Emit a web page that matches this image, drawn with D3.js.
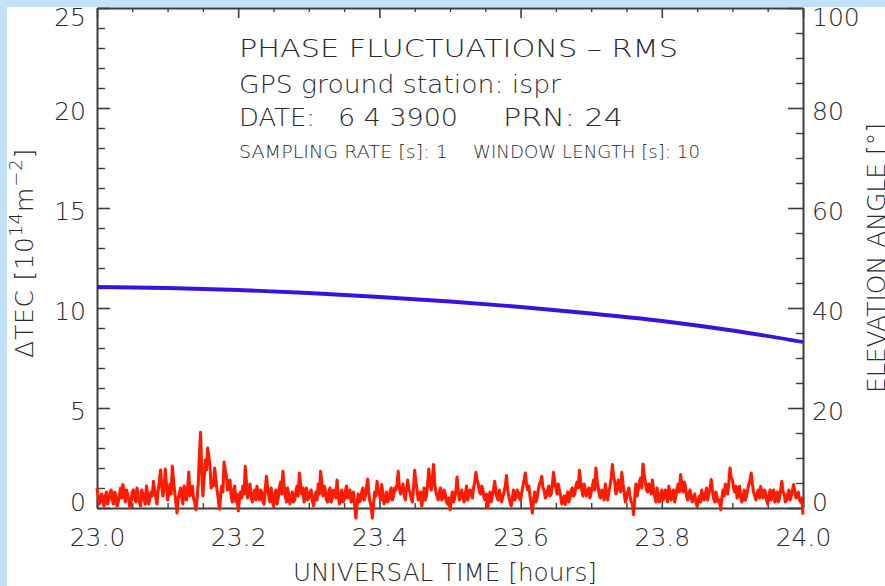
<!DOCTYPE html>
<html><head><meta charset="utf-8">
<script src="https://cdn.jsdelivr.net/npm/d3@7"></script>
<style>html,body{margin:0;padding:0;background:#fff;}svg{display:block;}</style>
</head><body>
<svg id="c" width="885" height="586"></svg>
<script>
// ---------- data ----------
const timeDomain = [23.0, 24.0];
const timeTicks = [23.0, 23.2, 23.4, 23.6, 23.8, 24.0];
const tecDomain = [0, 25];
const tecTicks = [0, 5, 10, 15, 20, 25];
const elevDomain = [0, 100];
const elevTicks = [0, 20, 40, 60, 80, 100];

// elevation angle of PRN 24 (deg)
const elevTimes  = [23.0, 23.1, 23.2, 23.3, 23.4, 23.5, 23.6, 23.7, 23.8, 23.9, 24.0];
const elevValues = [44.2, 44.0, 43.6, 43.0, 42.2, 41.3, 40.2, 38.9, 37.4, 35.5, 33.2];

// phase fluctuation RMS (10^14 m^-2), one value every 6 s from 23.0 h
const rmsStart = 23.0;
const rmsStep = 1 / 600;
const rmsValues = [
 1.0,0.6,0.2,0.5,0.7,0.3,0.1,0.6,0.8,0.2,0.4,0.7,0.9,0.4,0.2,0.8,0.6,0.1,0.3,0.6,1.0,0.5,1.17,0.8,0.3,0.9,0.7,0.4,0.0,0.3,0.8,0.9,0.5,0.3,1.0,0.6,0.3,0.1,0.9,0.7,
 0.4,0.2,1.1,0.7,0.2,0.5,0.8,0.6,1.33,0.9,0.5,0.2,0.9,1.3,1.9,1.1,0.6,0.9,1.95,1.2,0.4,0.8,1.2,0.7,2.1,1.4,0.8,0.3,-0.25,0.5,0.7,1.0,0.5,0.2,1.1,0.8,0.4,1.0,1.8,0.6,
 0.9,1.1,0.5,0.3,-0.08,0.4,1.2,2.6,3.78,1.8,0.6,1.5,2.4,1.9,3.0,2.6,2.1,1.0,1.4,1.1,2.0,1.5,0.9,0.5,-0.05,0.6,1.1,0.8,2.3,1.9,1.6,0.9,1.25,1.4,0.6,0.3,0.9,1.1,0.3,0.7,
 -0.15,0.4,0.8,0.5,1.1,0.7,2.08,1.3,0.5,0.9,1.2,0.6,0.3,0.7,0.9,0.4,1.08,0.6,0.4,0.9,0.8,0.3,0.2,0.9,1.58,1.0,0.6,0.3,1.0,0.5,0.1,0.6,0.9,0.2,0.5,1.0,1.3,0.7,1.83,1.1,
 0.6,0.3,1.0,0.6,0.2,0.5,0.8,0.3,0.4,0.8,1.1,0.6,1.75,1.2,0.7,1.0,0.3,0.8,1.0,0.4,0.5,0.8,0.9,0.4,0.1,0.5,0.8,0.4,1.2,0.7,1.83,1.3,0.6,1.1,0.9,0.4,0.3,0.8,1.0,0.3,
 0.5,0.9,0.8,0.5,1.4,0.7,0.2,0.6,0.9,0.3,0.4,0.8,1.1,0.5,0.6,0.9,0.3,0.5,0.8,0.1,-0.5,0.2,0.7,0.3,0.4,0.8,1.0,0.4,0.6,1.0,1.45,0.7,0.3,0.1,-0.5,0.2,0.8,0.6,1.33,0.9,
 0.7,0.4,1.17,0.6,0.2,0.5,0.8,0.3,0.4,0.8,1.0,0.4,0.6,1.0,0.9,1.2,1.83,1.0,0.7,0.9,1.2,0.7,0.4,0.9,1.4,0.9,0.8,0.5,0.3,1.0,1.88,1.3,0.9,0.4,0.5,0.8,0.1,0.5,1.0,0.4,
 0.6,1.2,1.95,1.3,0.9,1.4,2.17,1.2,0.8,0.6,0.4,0.8,1.0,0.4,0.5,0.9,0.7,0.3,0.2,0.5,-0.08,0.4,0.8,0.3,0.5,0.9,1.55,0.8,0.4,0.6,0.9,0.5,0.3,0.7,1.1,0.4,0.6,0.9,0.8,0.5,
 1.0,1.3,1.78,1.4,1.2,0.8,0.7,1.1,0.9,0.5,0.4,0.7,0.0,0.5,0.8,0.3,0.6,0.9,1.33,0.8,0.5,0.4,0.9,0.5,0.3,0.6,0.8,1.1,1.62,0.9,0.6,0.3,0.1,0.5,0.9,0.4,0.5,0.9,0.8,0.5,
 0.4,0.8,1.1,1.4,1.75,1.2,0.9,1.1,0.6,0.2,-0.25,0.4,0.8,0.3,0.5,0.9,1.2,1.3,1.58,1.0,0.9,0.5,0.6,0.9,1.1,0.6,0.7,1.2,1.78,1.3,1.0,0.7,1.2,0.9,0.6,0.2,0.3,0.6,0.17,0.5,
 0.8,0.3,0.5,0.9,1.0,0.6,0.7,1.1,1.3,1.0,1.88,1.3,0.9,0.6,1.2,0.8,0.6,0.9,1.0,0.5,0.8,1.1,1.4,0.9,2.0,1.4,1.0,0.6,0.5,0.9,0.83,0.4,1.2,0.7,0.4,0.8,1.1,1.5,2.17,1.6,
 1.3,0.7,0.9,1.4,1.2,0.8,1.78,1.2,0.8,0.3,0.5,0.8,1.0,0.6,0.3,0.2,-0.33,0.5,1.2,0.6,0.9,1.3,1.5,1.0,2.2,1.7,1.3,0.9,0.8,1.2,1.08,0.7,1.4,0.9,0.6,0.3,1.0,0.5,0.3,0.6,
 0.9,0.4,0.5,0.9,0.67,0.3,1.1,0.7,0.4,0.8,0.9,0.3,0.6,1.0,1.2,0.8,1.67,1.2,0.8,1.3,1.1,0.6,0.4,0.7,0.9,0.5,0.3,0.6,0.7,0.3,0.08,0.4,0.6,0.3,0.9,0.5,0.4,0.7,1.0,0.4,
 0.7,1.0,1.42,0.9,0.5,0.3,0.8,0.5,0.3,0.4,-0.08,0.5,0.9,0.6,1.2,0.9,0.7,1.3,2.0,1.5,1.4,1.0,0.8,1.1,0.5,0.7,1.08,0.6,0.3,0.5,0.9,0.4,0.6,0.9,1.2,1.4,1.75,1.2,0.8,0.6,
 0.4,0.7,0.9,0.5,1.08,0.7,0.5,0.9,0.8,0.4,0.2,0.6,0.9,0.4,0.67,0.9,0.3,0.6,0.8,0.3,0.5,0.9,1.33,0.8,0.7,0.3,0.4,0.7,0.9,0.4,0.6,0.9,1.17,0.8,0.5,0.6,0.8,0.4,0.3,0.5,-0.33
];

const titleLines = ["PHASE FLUCTUATIONS \u2013 RMS", "GPS ground station: ispr"];
const dateParts = ["DATE:", "6 4 3900", "PRN: 24"];
const infoParts = ["SAMPLING RATE [s]: 1", "WINDOW LENGTH [s]: 10"];

// ---------- drawing ----------
const FONT = "'DejaVu Sans', sans-serif";
const FW = 200;
const AX = "#3c3c3c";
const TXT = "#2a2a2a";
const svg = d3.select("#c");

const x = d3.scaleLinear().domain(timeDomain).range([97, 803]);
const yL = d3.scaleLinear().domain(tecDomain).range([508, 8]);
const yR = d3.scaleLinear().domain(elevDomain).range([508, 8]);

function styleAxis(g, size) {
  g.select(".domain").attr("stroke", AX).attr("stroke-width", 2);
  g.selectAll(".tick line").attr("stroke", AX).attr("stroke-width", 1.6);
  g.selectAll("text").attr("fill", TXT)
    .style("font-family", FONT).style("font-size", (size || 25) + "px").style("font-weight", FW);
}
function minor(g) { g.select(".domain").remove(); g.selectAll(".tick line").attr("stroke", AX).attr("stroke-width", 1.4); }
const minorTimes = d3.range(1, 20).filter(i => i % 4 !== 0).map(i => 23 + i * 0.05);

// left axis
const gl = svg.append("g").attr("transform", "translate(97,0)")
  .call(d3.axisLeft(yL).tickValues(tecTicks).tickSize(-13).tickSizeOuter(0).tickPadding(11).tickFormat(d3.format("d")));
styleAxis(gl);
gl.selectAll("text").attr("dy", d => d === 0 ? "0.08em" : d === 25 ? "0.68em" : "0.44em");
svg.append("g").attr("transform", "translate(97,0)")
  .call(d3.axisLeft(yL).tickValues(d3.range(0, 25, 1).filter(v => v % 5 !== 0)).tickSize(-8).tickFormat(""))
  .call(minor);

// right axis
const gr = svg.append("g").attr("transform", "translate(803,0)")
  .call(d3.axisRight(yR).tickValues(elevTicks).tickSize(-15).tickSizeOuter(0).tickPadding(9).tickFormat(d3.format("d")));
styleAxis(gr);
gr.selectAll("text").attr("dy", d => d === 0 ? "0.08em" : d === 100 ? "0.68em" : "0.44em");
svg.append("g").attr("transform", "translate(803,0)")
  .call(d3.axisRight(yR).tickValues(d3.range(5, 100, 5).filter(v => v % 20 !== 0)).tickSize(-7).tickFormat(""))
  .call(minor);

// top axis
const gt = svg.append("g").attr("transform", "translate(0,8)")
  .call(d3.axisTop(x).tickValues(timeTicks).tickSize(-10).tickSizeOuter(0).tickFormat(""));
styleAxis(gt);
svg.append("g").attr("transform", "translate(0,8)")
  .call(d3.axisTop(x).tickValues(minorTimes).tickSize(-4).tickFormat(""))
  .call(minor);

// bottom axis
const gb = svg.append("g").attr("transform", "translate(0,508)")
  .call(d3.axisBottom(x).tickValues(timeTicks).tickSize(-10).tickSizeOuter(0).tickPadding(20).tickFormat(d3.format(".1f")));
styleAxis(gb);
svg.append("g").attr("transform", "translate(0,508)")
  .call(d3.axisBottom(x).tickValues(minorTimes).tickSize(-5).tickFormat(""))
  .call(minor);

// elevation line
const elevData = elevTimes.map((t, i) => [t, elevValues[i]]);
svg.append("path").datum(elevData)
  .attr("fill", "none").attr("stroke", "#3c10e0").attr("stroke-width", 3.8)
  .attr("d", d3.line().curve(d3.curveMonotoneX).x(d => x(d[0])).y(d => yR(d[1])));

// RMS line
svg.append("path").datum(rmsValues)
  .attr("fill", "none").attr("stroke", "#ff1a00").attr("stroke-width", 3.1).attr("stroke-linejoin", "round")
  .attr("d", d3.line().x((d, i) => x(rmsStart + i * rmsStep)).y(d => yL(d)));

// annotation text
function txt(s, xx, yy, size, len) {
  const t = svg.append("text").attr("x", xx).attr("y", yy).text(s)
    .attr("fill", TXT).style("font-family", FONT).style("font-size", size + "px").style("font-weight", FW);
  if (len) t.attr("textLength", len).attr("lengthAdjust", "spacingAndGlyphs");
  return t;
}
txt(titleLines[0], 239, 57, 24, 439);
txt(titleLines[1], 239, 92.5, 24, 322);
txt(dateParts[0], 239, 126, 24, 76);
txt(dateParts[1], 338, 126, 24, 120);
txt(dateParts[2], 503, 126, 24, 120);
txt(infoParts[0], 239, 158, 17.5, 209);
txt(infoParts[1], 473, 158, 17.5, 227);

// x axis title
txt("UNIVERSAL TIME [hours]", 293, 581, 25, 304);

// left axis title
const lt = svg.append("text").attr("transform", "translate(33,253) rotate(-90)")
  .attr("text-anchor", "middle").attr("fill", TXT)
  .style("font-family", FONT).style("font-size", "25px").style("font-weight", FW)
  .style("letter-spacing", "0.8px");
lt.append("tspan").text("\u0394TEC [10");
lt.append("tspan").attr("dy", -11).style("font-size", "18px").text("14");
lt.append("tspan").attr("dy", 11).text("m");
lt.append("tspan").attr("dy", -11).style("font-size", "18px").text("\u22122");
lt.append("tspan").attr("dy", 11).text("]");

// right axis title (partly cut by the right edge as in the source image)
svg.append("text").attr("transform", "translate(885,258) rotate(-90)")
  .attr("text-anchor", "middle").attr("fill", TXT)
  .style("font-family", FONT).style("font-size", "25px").style("font-weight", FW)
  .text("ELEVATION ANGLE [\u00b0]");

// light blue frame (top and left)
svg.append("rect").attr("x", 0).attr("y", 0).attr("width", 885).attr("height", 7).attr("fill", "#c2e1fb");
svg.append("rect").attr("x", 0).attr("y", 0).attr("width", 7).attr("height", 586).attr("fill", "#c2e1fb");
</script>
</body></html>
